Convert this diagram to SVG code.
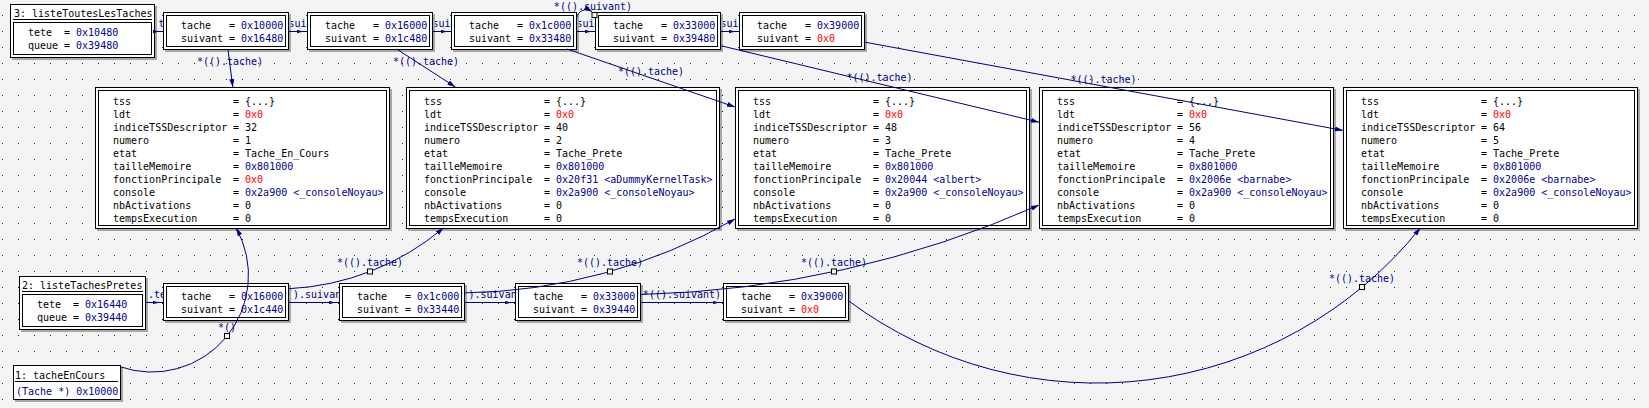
<svg xmlns="http://www.w3.org/2000/svg" width="1649" height="408" viewBox="0 0 1649 408">
<style>
.bg{fill:#f4f4f4}
.sh{fill:#a8a8a8}
.o{fill:#fff;stroke:#000;stroke-width:1}
.i{fill:none;stroke:#000;stroke-width:1}
text{font-family:"DejaVu Sans Mono","Liberation Mono",monospace;font-size:10px;fill:#000}
.b{fill:#00008b}
.r{fill:#f00}
.l{fill:#000080;text-anchor:middle}
.ls{fill:#000080}
.e{fill:none;stroke:#000080;stroke-width:1}
.ea{fill:none;stroke:#000080;stroke-width:1;marker-end:url(#ah)}
.es{fill:none;stroke:#000080;stroke-width:1;marker-end:url(#ahs)}
.h{fill:#f4f4f4;stroke:#000;stroke-width:1}
</style>
<defs>
<pattern id="grid" width="16" height="16" patternUnits="userSpaceOnUse"><rect x="2" y="15" width="1" height="1" fill="#222"/></pattern>
<marker id="ah" markerWidth="8" markerHeight="5" refX="8" refY="2.5" orient="auto" markerUnits="userSpaceOnUse"><path d="M0,0 L8,2.5 L0,5 z" fill="#000080"/></marker>
<marker id="ahs" markerWidth="11" markerHeight="4" refX="10.5" refY="1.75" orient="auto" markerUnits="userSpaceOnUse"><path d="M0,0 L6,1.5 L6,2 L0,3.5 z" fill="#000080"/></marker>
</defs>
<rect class="bg" x="0" y="0" width="1649" height="408"/>
<rect fill="url(#grid)" x="0" y="0" width="1649" height="408"/>

<g id="edge-labels">
<text class="ls" x="152.5" y="27">.t</text>
<text class="ls" x="288.5" y="27">sui</text>
<text class="ls" x="432.5" y="27">sui</text>
<text class="ls" x="576.5" y="27">sui</text>
<text class="ls" x="720.5" y="27">sui</text>
<text class="l" x="593" y="10">*(().suivant)</text>
<text class="l" x="230" y="65">*(().tache)</text>
<text class="l" x="426" y="65">*(().tache)</text>
<text class="l" x="651" y="75">*(().tache)</text>
<text class="l" x="879.5" y="81">*(().tache)</text>
<text class="l" x="1103.5" y="83">*(().tache)</text>
<text class="ls" x="148" y="298">.te</text>
<text class="ls" x="287" y="298">().suivan</text>
<text class="ls" x="462.5" y="298">().suivan</text>
<text class="l" x="682" y="297.5">*(().suivant)</text>
<text class="l" x="370" y="266">*(().tache)</text>
<text class="l" x="610" y="266">*(().tache)</text>
<text class="l" x="834" y="266">*(().tache)</text>
<text class="l" x="1362" y="281.5">*(().tache)</text>
<text class="l" x="227" y="330.5">*()</text>
</g>

<g id="n3-listeToutesLesTaches">
<rect class="sh" x="12" y="6" width="145" height="54"/>
<rect class="o" x="10.5" y="4.5" width="144" height="53"/>
<text x="14" y="17">3: listeToutesLesTaches</text>
<line class="i" x1="13" y1="19.5" x2="152" y2="19.5"/>
<rect class="i" x="13.5" y="22.5" width="138" height="32"/>
<text y="36"><tspan x="28">tete</tspan><tspan x="64">= <tspan class="b">0x10480</tspan></tspan></text>
<text y="49"><tspan x="28">queue</tspan><tspan x="64">= <tspan class="b">0x39480</tspan></tspan></text>
</g>

<g id="t1">
<rect class="sh" x="165" y="14" width="126" height="38"/>
<rect class="o" x="163.5" y="12.5" width="125" height="37"/>
<rect class="i" x="166.5" y="15.5" width="119" height="31"/>
<text y="29"><tspan x="181">tache</tspan><tspan x="229">= <tspan class="b">0x10000</tspan></tspan></text>
<text y="42"><tspan x="181">suivant</tspan><tspan x="229">= <tspan class="b">0x16480</tspan></tspan></text>
</g>
<g id="t2">
<rect class="sh" x="309" y="14" width="126" height="38"/>
<rect class="o" x="307.5" y="12.5" width="125" height="37"/>
<rect class="i" x="310.5" y="15.5" width="119" height="31"/>
<text y="29"><tspan x="325">tache</tspan><tspan x="373">= <tspan class="b">0x16000</tspan></tspan></text>
<text y="42"><tspan x="325">suivant</tspan><tspan x="373">= <tspan class="b">0x1c480</tspan></tspan></text>
</g>
<g id="t3">
<rect class="sh" x="453" y="14" width="126" height="38"/>
<rect class="o" x="451.5" y="12.5" width="125" height="37"/>
<rect class="i" x="454.5" y="15.5" width="119" height="31"/>
<text y="29"><tspan x="469">tache</tspan><tspan x="517">= <tspan class="b">0x1c000</tspan></tspan></text>
<text y="42"><tspan x="469">suivant</tspan><tspan x="517">= <tspan class="b">0x33480</tspan></tspan></text>
</g>
<g id="t4">
<rect class="sh" x="597" y="14" width="126" height="38"/>
<rect class="o" x="595.5" y="12.5" width="125" height="37"/>
<rect class="i" x="598.5" y="15.5" width="119" height="31"/>
<text y="29"><tspan x="613">tache</tspan><tspan x="661">= <tspan class="b">0x33000</tspan></tspan></text>
<text y="42"><tspan x="613">suivant</tspan><tspan x="661">= <tspan class="b">0x39480</tspan></tspan></text>
</g>
<g id="t5">
<rect class="sh" x="741" y="14" width="126" height="38"/>
<rect class="o" x="739.5" y="12.5" width="125" height="37"/>
<rect class="i" x="742.5" y="15.5" width="119" height="31"/>
<text y="29"><tspan x="757">tache</tspan><tspan x="805">= <tspan class="b">0x39000</tspan></tspan></text>
<text y="42"><tspan x="757">suivant</tspan><tspan x="805">= <tspan class="r">0x0</tspan></tspan></text>
</g>

<g id="task1">
<rect class="sh" x="97" y="89" width="295" height="142"/>
<rect class="o" x="95.5" y="87.5" width="294" height="141"/>
<rect class="i" x="98.5" y="90.5" width="288" height="135"/>
<text y="105"><tspan x="113">tss</tspan><tspan x="233">= {...}</tspan></text>
<text y="118"><tspan x="113">ldt</tspan><tspan x="233">= <tspan class="r">0x0</tspan></tspan></text>
<text y="131"><tspan x="113">indiceTSSDescriptor</tspan><tspan x="233">= 32</tspan></text>
<text y="144"><tspan x="113">numero</tspan><tspan x="233">= 1</tspan></text>
<text y="157"><tspan x="113">etat</tspan><tspan x="233">= Tache_En_Cours</tspan></text>
<text y="170"><tspan x="113">tailleMemoire</tspan><tspan x="233">= <tspan class="b">0x801000</tspan></tspan></text>
<text y="183"><tspan x="113">fonctionPrincipale</tspan><tspan x="233">= <tspan class="r">0x0</tspan></tspan></text>
<text y="196"><tspan x="113">console</tspan><tspan x="233">= <tspan class="b">0x2a900 &lt;_consoleNoyau&gt;</tspan></tspan></text>
<text y="209"><tspan x="113">nbActivations</tspan><tspan x="233">= 0</tspan></text>
<text y="222"><tspan x="113">tempsExecution</tspan><tspan x="233">= 0</tspan></text>
</g>
<g id="task2">
<rect class="sh" x="408" y="89" width="314" height="142"/>
<rect class="o" x="406.5" y="87.5" width="313" height="141"/>
<rect class="i" x="409.5" y="90.5" width="307" height="135"/>
<text y="105"><tspan x="424">tss</tspan><tspan x="544">= {...}</tspan></text>
<text y="118"><tspan x="424">ldt</tspan><tspan x="544">= <tspan class="r">0x0</tspan></tspan></text>
<text y="131"><tspan x="424">indiceTSSDescriptor</tspan><tspan x="544">= 40</tspan></text>
<text y="144"><tspan x="424">numero</tspan><tspan x="544">= 2</tspan></text>
<text y="157"><tspan x="424">etat</tspan><tspan x="544">= Tache_Prete</tspan></text>
<text y="170"><tspan x="424">tailleMemoire</tspan><tspan x="544">= <tspan class="b">0x801000</tspan></tspan></text>
<text y="183"><tspan x="424">fonctionPrincipale</tspan><tspan x="544">= <tspan class="b">0x20f31 &lt;aDummyKernelTask&gt;</tspan></tspan></text>
<text y="196"><tspan x="424">console</tspan><tspan x="544">= <tspan class="b">0x2a900 &lt;_consoleNoyau&gt;</tspan></tspan></text>
<text y="209"><tspan x="424">nbActivations</tspan><tspan x="544">= 0</tspan></text>
<text y="222"><tspan x="424">tempsExecution</tspan><tspan x="544">= 0</tspan></text>
</g>
<g id="task3">
<rect class="sh" x="737" y="89" width="295" height="142"/>
<rect class="o" x="735.5" y="87.5" width="294" height="141"/>
<rect class="i" x="738.5" y="90.5" width="288" height="135"/>
<text y="105"><tspan x="753">tss</tspan><tspan x="873">= {...}</tspan></text>
<text y="118"><tspan x="753">ldt</tspan><tspan x="873">= <tspan class="r">0x0</tspan></tspan></text>
<text y="131"><tspan x="753">indiceTSSDescriptor</tspan><tspan x="873">= 48</tspan></text>
<text y="144"><tspan x="753">numero</tspan><tspan x="873">= 3</tspan></text>
<text y="157"><tspan x="753">etat</tspan><tspan x="873">= Tache_Prete</tspan></text>
<text y="170"><tspan x="753">tailleMemoire</tspan><tspan x="873">= <tspan class="b">0x801000</tspan></tspan></text>
<text y="183"><tspan x="753">fonctionPrincipale</tspan><tspan x="873">= <tspan class="b">0x20044 &lt;albert&gt;</tspan></tspan></text>
<text y="196"><tspan x="753">console</tspan><tspan x="873">= <tspan class="b">0x2a900 &lt;_consoleNoyau&gt;</tspan></tspan></text>
<text y="209"><tspan x="753">nbActivations</tspan><tspan x="873">= 0</tspan></text>
<text y="222"><tspan x="753">tempsExecution</tspan><tspan x="873">= 0</tspan></text>
</g>
<g id="task4">
<rect class="sh" x="1041" y="89" width="295" height="142"/>
<rect class="o" x="1039.5" y="87.5" width="294" height="141"/>
<rect class="i" x="1042.5" y="90.5" width="288" height="135"/>
<text y="105"><tspan x="1057">tss</tspan><tspan x="1177">= {...}</tspan></text>
<text y="118"><tspan x="1057">ldt</tspan><tspan x="1177">= <tspan class="r">0x0</tspan></tspan></text>
<text y="131"><tspan x="1057">indiceTSSDescriptor</tspan><tspan x="1177">= 56</tspan></text>
<text y="144"><tspan x="1057">numero</tspan><tspan x="1177">= 4</tspan></text>
<text y="157"><tspan x="1057">etat</tspan><tspan x="1177">= Tache_Prete</tspan></text>
<text y="170"><tspan x="1057">tailleMemoire</tspan><tspan x="1177">= <tspan class="b">0x801000</tspan></tspan></text>
<text y="183"><tspan x="1057">fonctionPrincipale</tspan><tspan x="1177">= <tspan class="b">0x2006e &lt;barnabe&gt;</tspan></tspan></text>
<text y="196"><tspan x="1057">console</tspan><tspan x="1177">= <tspan class="b">0x2a900 &lt;_consoleNoyau&gt;</tspan></tspan></text>
<text y="209"><tspan x="1057">nbActivations</tspan><tspan x="1177">= 0</tspan></text>
<text y="222"><tspan x="1057">tempsExecution</tspan><tspan x="1177">= 0</tspan></text>
</g>
<g id="task5">
<rect class="sh" x="1345" y="89" width="295" height="142"/>
<rect class="o" x="1343.5" y="87.5" width="294" height="141"/>
<rect class="i" x="1346.5" y="90.5" width="288" height="135"/>
<text y="105"><tspan x="1361">tss</tspan><tspan x="1481">= {...}</tspan></text>
<text y="118"><tspan x="1361">ldt</tspan><tspan x="1481">= <tspan class="r">0x0</tspan></tspan></text>
<text y="131"><tspan x="1361">indiceTSSDescriptor</tspan><tspan x="1481">= 64</tspan></text>
<text y="144"><tspan x="1361">numero</tspan><tspan x="1481">= 5</tspan></text>
<text y="157"><tspan x="1361">etat</tspan><tspan x="1481">= Tache_Prete</tspan></text>
<text y="170"><tspan x="1361">tailleMemoire</tspan><tspan x="1481">= <tspan class="b">0x801000</tspan></tspan></text>
<text y="183"><tspan x="1361">fonctionPrincipale</tspan><tspan x="1481">= <tspan class="b">0x2006e &lt;barnabe&gt;</tspan></tspan></text>
<text y="196"><tspan x="1361">console</tspan><tspan x="1481">= <tspan class="b">0x2a900 &lt;_consoleNoyau&gt;</tspan></tspan></text>
<text y="209"><tspan x="1361">nbActivations</tspan><tspan x="1481">= 0</tspan></text>
<text y="222"><tspan x="1361">tempsExecution</tspan><tspan x="1481">= 0</tspan></text>
</g>

<g id="n2-listeTachesPretes">
<rect class="sh" x="21" y="278" width="127" height="54"/>
<rect class="o" x="19.5" y="276.5" width="126" height="53"/>
<text x="22" y="289">2: listeTachesPretes</text>
<line class="i" x1="22" y1="291.5" x2="143" y2="291.5"/>
<rect class="i" x="22.5" y="294.5" width="120" height="32"/>
<text y="308"><tspan x="37">tete</tspan><tspan x="73">= <tspan class="b">0x16440</tspan></tspan></text>
<text y="321"><tspan x="37">queue</tspan><tspan x="73">= <tspan class="b">0x39440</tspan></tspan></text>
</g>

<g id="b1">
<rect class="sh" x="165" y="285" width="126" height="38"/>
<rect class="o" x="163.5" y="283.5" width="125" height="37"/>
<rect class="i" x="166.5" y="286.5" width="119" height="31"/>
<text y="300"><tspan x="181">tache</tspan><tspan x="229">= <tspan class="b">0x16000</tspan></tspan></text>
<text y="313"><tspan x="181">suivant</tspan><tspan x="229">= <tspan class="b">0x1c440</tspan></tspan></text>
</g>
<g id="b2">
<rect class="sh" x="341" y="285" width="126" height="38"/>
<rect class="o" x="339.5" y="283.5" width="125" height="37"/>
<rect class="i" x="342.5" y="286.5" width="119" height="31"/>
<text y="300"><tspan x="357">tache</tspan><tspan x="405">= <tspan class="b">0x1c000</tspan></tspan></text>
<text y="313"><tspan x="357">suivant</tspan><tspan x="405">= <tspan class="b">0x33440</tspan></tspan></text>
</g>
<g id="b3">
<rect class="sh" x="517" y="285" width="126" height="38"/>
<rect class="o" x="515.5" y="283.5" width="125" height="37"/>
<rect class="i" x="518.5" y="286.5" width="119" height="31"/>
<text y="300"><tspan x="533">tache</tspan><tspan x="581">= <tspan class="b">0x33000</tspan></tspan></text>
<text y="313"><tspan x="533">suivant</tspan><tspan x="581">= <tspan class="b">0x39440</tspan></tspan></text>
</g>
<g id="b4">
<rect class="sh" x="725" y="285" width="126" height="38"/>
<rect class="o" x="723.5" y="283.5" width="125" height="37"/>
<rect class="i" x="726.5" y="286.5" width="119" height="31"/>
<text y="300"><tspan x="741">tache</tspan><tspan x="789">= <tspan class="b">0x39000</tspan></tspan></text>
<text y="313"><tspan x="741">suivant</tspan><tspan x="789">= <tspan class="r">0x0</tspan></tspan></text>
</g>

<g id="n1-tacheEnCours">
<rect class="sh" x="15" y="367" width="108" height="35"/>
<rect class="o" x="13.5" y="365.5" width="107" height="34"/>
<text x="15" y="379">1: tacheEnCours</text>
<line class="i" x1="15" y1="381.5" x2="118" y2="381.5"/>
<text x="16" y="395" class="b">(Tache *) 0x10000</text>
</g>

<g id="connectors">
<path class="es" d="M154,31.5 H163"/>
<path class="es" d="M288,31.5 H307"/>
<path class="es" d="M432,31.5 H451"/>
<path class="es" d="M576,31.5 H595"/>
<path class="es" d="M720,31.5 H739"/>
<path class="es" d="M145,302.5 H163"/>
<path class="es" d="M289,302.5 H339"/>
<path class="es" d="M464,302.5 H515"/>
<path class="es" d="M641,302.5 H723"/>
<path class="ea" d="M576.5,18 C578,11 585,7.5 592,11.5"/>
<path class="ea" d="M227.9,49 L232.8,87"/>
<path class="ea" d="M396.6,49 L455.4,87"/>
<path class="ea" d="M567,49 L735,107"/>
<path class="ea" d="M720,45.5 L1039,122.2"/>
<path class="ea" d="M864,42 L1343,130.4"/>
<path class="ea" d="M289,288.7 A259.5,259.5 0 0 0 443.5,228"/>
<path class="ea" d="M464,292.9 A562.3,562.3 0 0 0 735,219"/>
<path class="ea" d="M641,294.5 A1054.9,1054.9 0 0 0 1039,205.1"/>
<path class="ea" d="M848,300.4 A415.3,415.3 0 0 0 1420.3,228"/>
<path class="ea" d="M120,366.7 A96.7,96.7 0 0 0 236.1,228"/>
<rect class="h" x="592" y="12.5" width="5" height="5"/>
<rect class="h" x="367.5" y="269" width="5" height="5"/>
<rect class="h" x="607.5" y="269" width="5" height="5"/>
<rect class="h" x="831.5" y="269" width="5" height="5"/>
<rect class="h" x="1359.5" y="284.5" width="5" height="5"/>
<rect class="h" x="224.5" y="333.5" width="5" height="5"/>
</g>
</svg>
